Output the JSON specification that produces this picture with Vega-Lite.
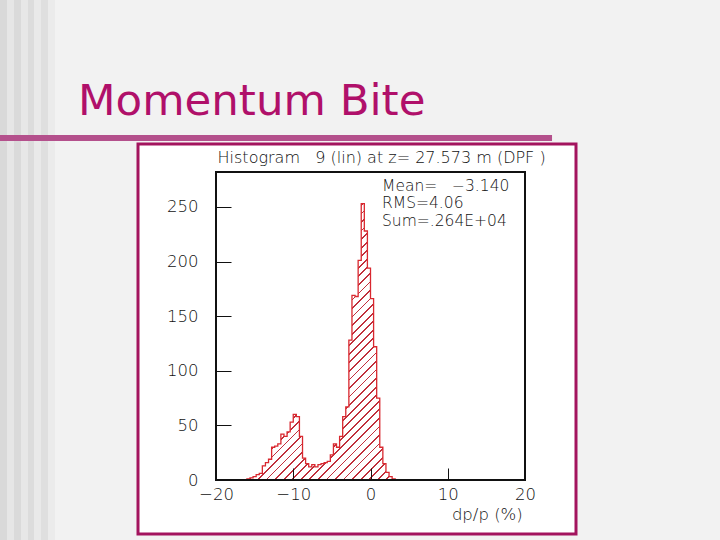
{
  "$schema": "https://vega.github.io/schema/vega-lite/v6.json",
  "width": 309,
  "height": 308,
  "autosize": {"type": "none"},
  "padding": {"left": 216, "top": 172, "right": 195, "bottom": 60},
  "background": "#f2f2f2",
  "title": {"text": "Momentum Bite", "anchor": "start", "frame": "group", "dx": -138, "offset": -158.5, "baseline": "alphabetic", "font": "DejaVu Sans", "fontSize": 43.5, "fontWeight": "normal", "color": "#b0106a"},
  "config": {"view": {"stroke": null, "fill": null}, "axis": {"labelOverlap": false, "labelBound": false}},
  "datasets": {
    "hist": [
      {"dpp": -16.4, "count": 0}, {"dpp": -16.0, "count": 1}, {"dpp": -15.6, "count": 2}, {"dpp": -15.2, "count": 3},
      {"dpp": -14.8, "count": 5}, {"dpp": -14.4, "count": 6}, {"dpp": -14.0, "count": 13}, {"dpp": -13.6, "count": 16},
      {"dpp": -13.2, "count": 19}, {"dpp": -12.8, "count": 30}, {"dpp": -12.4, "count": 31}, {"dpp": -12.0, "count": 33},
      {"dpp": -11.6, "count": 42}, {"dpp": -11.2, "count": 40}, {"dpp": -10.8, "count": 44}, {"dpp": -10.4, "count": 53},
      {"dpp": -10.0, "count": 60}, {"dpp": -9.6, "count": 58}, {"dpp": -9.2, "count": 40}, {"dpp": -8.8, "count": 20},
      {"dpp": -8.4, "count": 15}, {"dpp": -8.0, "count": 12}, {"dpp": -7.6, "count": 14}, {"dpp": -7.2, "count": 12},
      {"dpp": -6.8, "count": 14}, {"dpp": -6.4, "count": 15}, {"dpp": -6.0, "count": 16}, {"dpp": -5.6, "count": 17},
      {"dpp": -5.2, "count": 23}, {"dpp": -4.8, "count": 33}, {"dpp": -4.4, "count": 30}, {"dpp": -4.0, "count": 40},
      {"dpp": -3.6, "count": 58}, {"dpp": -3.2, "count": 67}, {"dpp": -2.8, "count": 128}, {"dpp": -2.4, "count": 169},
      {"dpp": -2.0, "count": 168}, {"dpp": -1.6, "count": 201}, {"dpp": -1.2, "count": 253}, {"dpp": -0.8, "count": 228},
      {"dpp": -0.4, "count": 194}, {"dpp": 0.0, "count": 166}, {"dpp": 0.4, "count": 122}, {"dpp": 0.8, "count": 75},
      {"dpp": 1.2, "count": 30}, {"dpp": 1.6, "count": 15}, {"dpp": 2.0, "count": 7}, {"dpp": 2.4, "count": 3},
      {"dpp": 2.8, "count": 1}, {"dpp": 3.2, "count": 0}
    ],
    "one": [{"id": 1}],
    "histTitle": [{"label": "Histogram\u00a0\u00a0 9 (lin) at z= 27.573 m (DPF )"}],
    "stats": [{"label": ["Mean=\u00a0\u00a0\u00a0\u22123.140", "RMS=4.06", "Sum=.264E+04"]}],
    "xTitle": [{"label": "dp/p (%)"}]
  },
  "layer": [
    {
      "data": {"name": "one"},
      "mark": {"type": "rect", "fill": {"gradient": "linear", "x1": 0, "y1": 0, "x2": 1, "y2": 0, "stops": [
        {"offset": 0, "color": "#d9d9d9"}, {"offset": 0.125, "color": "#d9d9d9"}, {"offset": 0.125, "color": "#e6e6e6"}, {"offset": 0.25, "color": "#e6e6e6"},
        {"offset": 0.25, "color": "#dadada"}, {"offset": 0.375, "color": "#dadada"}, {"offset": 0.375, "color": "#e7e7e7"}, {"offset": 0.5, "color": "#e7e7e7"},
        {"offset": 0.5, "color": "#dcdcdc"}, {"offset": 0.625, "color": "#dcdcdc"}, {"offset": 0.625, "color": "#e9e9e9"}, {"offset": 0.75, "color": "#e9e9e9"},
        {"offset": 0.75, "color": "#dfdfdf"}, {"offset": 0.875, "color": "#dfdfdf"}, {"offset": 0.875, "color": "#ebebeb"}, {"offset": 1, "color": "#ebebeb"}
      ]}},
      "encoding": {
        "x": {"datum": -47.96, "type": "quantitative"}, "x2": {"datum": -40.84},
        "y": {"datum": 439.5, "type": "quantitative"}, "y2": {"datum": -54.94}
      }
    },
    {
      "data": {"name": "one"},
      "mark": {"type": "rect", "fill": "white", "stroke": "#a3145e", "strokeWidth": 3},
      "encoding": {
        "x": {"datum": -30.097, "type": "quantitative"}, "x2": {"datum": 26.602},
        "y": {"datum": -49.44, "type": "quantitative"}, "y2": {"datum": 307.64}
      }
    },
    {
      "data": {"name": "one"},
      "mark": {"type": "rect", "color": "#b4508c"},
      "encoding": {
        "x": {"datum": -47.96, "type": "quantitative"}, "x2": {"datum": 23.5},
        "y": {"datum": 315.88, "type": "quantitative"}, "y2": {"datum": 310.38}
      }
    },
    {
      "data": {"name": "hist"},
      "mark": {"type": "area", "interpolate": "step-after",
        "fill": {"gradient": "linear", "x1": 0, "y1": 0, "x2": 0.6524, "y2": 1.1906, "stops": [
          {"offset":0,"color":"#fff"},{"offset":0.016,"color":"#fff"},{"offset":0.016,"color":"#c0303c"},{"offset":0.02,"color":"#c0303c"},
          {"offset":0.02,"color":"#fff"},{"offset":0.036,"color":"#fff"},{"offset":0.036,"color":"#c0303c"},{"offset":0.04,"color":"#c0303c"},
          {"offset":0.04,"color":"#fff"},{"offset":0.056,"color":"#fff"},{"offset":0.056,"color":"#c0303c"},{"offset":0.06,"color":"#c0303c"},
          {"offset":0.06,"color":"#fff"},{"offset":0.076,"color":"#fff"},{"offset":0.076,"color":"#c0303c"},{"offset":0.08,"color":"#c0303c"},
          {"offset":0.08,"color":"#fff"},{"offset":0.096,"color":"#fff"},{"offset":0.096,"color":"#c0303c"},{"offset":0.1,"color":"#c0303c"},
          {"offset":0.1,"color":"#fff"},{"offset":0.116,"color":"#fff"},{"offset":0.116,"color":"#c0303c"},{"offset":0.12,"color":"#c0303c"},
          {"offset":0.12,"color":"#fff"},{"offset":0.136,"color":"#fff"},{"offset":0.136,"color":"#c0303c"},{"offset":0.14,"color":"#c0303c"},
          {"offset":0.14,"color":"#fff"},{"offset":0.156,"color":"#fff"},{"offset":0.156,"color":"#c0303c"},{"offset":0.16,"color":"#c0303c"},
          {"offset":0.16,"color":"#fff"},{"offset":0.176,"color":"#fff"},{"offset":0.176,"color":"#c0303c"},{"offset":0.18,"color":"#c0303c"},
          {"offset":0.18,"color":"#fff"},{"offset":0.196,"color":"#fff"},{"offset":0.196,"color":"#c0303c"},{"offset":0.2,"color":"#c0303c"},
          {"offset":0.2,"color":"#fff"},{"offset":0.216,"color":"#fff"},{"offset":0.216,"color":"#c0303c"},{"offset":0.22,"color":"#c0303c"},
          {"offset":0.22,"color":"#fff"},{"offset":0.236,"color":"#fff"},{"offset":0.236,"color":"#c0303c"},{"offset":0.24,"color":"#c0303c"},
          {"offset":0.24,"color":"#fff"},{"offset":0.256,"color":"#fff"},{"offset":0.256,"color":"#c0303c"},{"offset":0.26,"color":"#c0303c"},
          {"offset":0.26,"color":"#fff"},{"offset":0.276,"color":"#fff"},{"offset":0.276,"color":"#c0303c"},{"offset":0.28,"color":"#c0303c"},
          {"offset":0.28,"color":"#fff"},{"offset":0.296,"color":"#fff"},{"offset":0.296,"color":"#c0303c"},{"offset":0.3,"color":"#c0303c"},
          {"offset":0.3,"color":"#fff"},{"offset":0.316,"color":"#fff"},{"offset":0.316,"color":"#c0303c"},{"offset":0.32,"color":"#c0303c"},
          {"offset":0.32,"color":"#fff"},{"offset":0.336,"color":"#fff"},{"offset":0.336,"color":"#c0303c"},{"offset":0.34,"color":"#c0303c"},
          {"offset":0.34,"color":"#fff"},{"offset":0.356,"color":"#fff"},{"offset":0.356,"color":"#c0303c"},{"offset":0.36,"color":"#c0303c"},
          {"offset":0.36,"color":"#fff"},{"offset":0.376,"color":"#fff"},{"offset":0.376,"color":"#c0303c"},{"offset":0.38,"color":"#c0303c"},
          {"offset":0.38,"color":"#fff"},{"offset":0.396,"color":"#fff"},{"offset":0.396,"color":"#c0303c"},{"offset":0.4,"color":"#c0303c"},
          {"offset":0.4,"color":"#fff"},{"offset":0.416,"color":"#fff"},{"offset":0.416,"color":"#c0303c"},{"offset":0.42,"color":"#c0303c"},
          {"offset":0.42,"color":"#fff"},{"offset":0.436,"color":"#fff"},{"offset":0.436,"color":"#c0303c"},{"offset":0.44,"color":"#c0303c"},
          {"offset":0.44,"color":"#fff"},{"offset":0.456,"color":"#fff"},{"offset":0.456,"color":"#c0303c"},{"offset":0.46,"color":"#c0303c"},
          {"offset":0.46,"color":"#fff"},{"offset":0.476,"color":"#fff"},{"offset":0.476,"color":"#c0303c"},{"offset":0.48,"color":"#c0303c"},
          {"offset":0.48,"color":"#fff"},{"offset":0.496,"color":"#fff"},{"offset":0.496,"color":"#c0303c"},{"offset":0.5,"color":"#c0303c"},
          {"offset":0.5,"color":"#fff"},{"offset":0.516,"color":"#fff"},{"offset":0.516,"color":"#c0303c"},{"offset":0.52,"color":"#c0303c"},
          {"offset":0.52,"color":"#fff"},{"offset":0.536,"color":"#fff"},{"offset":0.536,"color":"#c0303c"},{"offset":0.54,"color":"#c0303c"},
          {"offset":0.54,"color":"#fff"},{"offset":0.556,"color":"#fff"},{"offset":0.556,"color":"#c0303c"},{"offset":0.56,"color":"#c0303c"},
          {"offset":0.56,"color":"#fff"},{"offset":0.576,"color":"#fff"},{"offset":0.576,"color":"#c0303c"},{"offset":0.58,"color":"#c0303c"},
          {"offset":0.58,"color":"#fff"},{"offset":0.596,"color":"#fff"},{"offset":0.596,"color":"#c0303c"},{"offset":0.6,"color":"#c0303c"},
          {"offset":0.6,"color":"#fff"},{"offset":0.616,"color":"#fff"},{"offset":0.616,"color":"#c0303c"},{"offset":0.62,"color":"#c0303c"},
          {"offset":0.62,"color":"#fff"},{"offset":0.636,"color":"#fff"},{"offset":0.636,"color":"#c0303c"},{"offset":0.64,"color":"#c0303c"},
          {"offset":0.64,"color":"#fff"},{"offset":0.656,"color":"#fff"},{"offset":0.656,"color":"#c0303c"},{"offset":0.66,"color":"#c0303c"},
          {"offset":0.66,"color":"#fff"},{"offset":0.676,"color":"#fff"},{"offset":0.676,"color":"#c0303c"},{"offset":0.68,"color":"#c0303c"},
          {"offset":0.68,"color":"#fff"},{"offset":0.696,"color":"#fff"},{"offset":0.696,"color":"#c0303c"},{"offset":0.7,"color":"#c0303c"},
          {"offset":0.7,"color":"#fff"},{"offset":0.716,"color":"#fff"},{"offset":0.716,"color":"#c0303c"},{"offset":0.72,"color":"#c0303c"},
          {"offset":0.72,"color":"#fff"},{"offset":0.736,"color":"#fff"},{"offset":0.736,"color":"#c0303c"},{"offset":0.74,"color":"#c0303c"},
          {"offset":0.74,"color":"#fff"},{"offset":0.756,"color":"#fff"},{"offset":0.756,"color":"#c0303c"},{"offset":0.76,"color":"#c0303c"},
          {"offset":0.76,"color":"#fff"},{"offset":0.776,"color":"#fff"},{"offset":0.776,"color":"#c0303c"},{"offset":0.78,"color":"#c0303c"},
          {"offset":0.78,"color":"#fff"},{"offset":0.796,"color":"#fff"},{"offset":0.796,"color":"#c0303c"},{"offset":0.8,"color":"#c0303c"},
          {"offset":0.8,"color":"#fff"},{"offset":0.816,"color":"#fff"},{"offset":0.816,"color":"#c0303c"},{"offset":0.82,"color":"#c0303c"},
          {"offset":0.82,"color":"#fff"},{"offset":0.836,"color":"#fff"},{"offset":0.836,"color":"#c0303c"},{"offset":0.84,"color":"#c0303c"},
          {"offset":0.84,"color":"#fff"},{"offset":0.856,"color":"#fff"},{"offset":0.856,"color":"#c0303c"},{"offset":0.86,"color":"#c0303c"},
          {"offset":0.86,"color":"#fff"},{"offset":0.876,"color":"#fff"},{"offset":0.876,"color":"#c0303c"},{"offset":0.88,"color":"#c0303c"},
          {"offset":0.88,"color":"#fff"},{"offset":0.896,"color":"#fff"},{"offset":0.896,"color":"#c0303c"},{"offset":0.9,"color":"#c0303c"},
          {"offset":0.9,"color":"#fff"},{"offset":0.916,"color":"#fff"},{"offset":0.916,"color":"#c0303c"},{"offset":0.92,"color":"#c0303c"},
          {"offset":0.92,"color":"#fff"},{"offset":0.936,"color":"#fff"},{"offset":0.936,"color":"#c0303c"},{"offset":0.94,"color":"#c0303c"},
          {"offset":0.94,"color":"#fff"},{"offset":0.956,"color":"#fff"},{"offset":0.956,"color":"#c0303c"},{"offset":0.96,"color":"#c0303c"},
          {"offset":0.96,"color":"#fff"},{"offset":0.976,"color":"#fff"},{"offset":0.976,"color":"#c0303c"},{"offset":0.98,"color":"#c0303c"},
          {"offset":0.98,"color":"#fff"},{"offset":0.996,"color":"#fff"},{"offset":0.996,"color":"#c0303c"},{"offset":1,"color":"#c0303c"}
        ]}},
      "encoding": {
        "x": {"field": "dpp", "type": "quantitative",
          "scale": {"domain": [-20, 20], "nice": false, "zero": false},
          "axis": {"orient": "bottom", "zindex": 1, "domain": false, "grid": false, "title": null,
            "values": [-20, -10, 0, 10, 20],
            "tickSize": -12, "tickColor": "#111", "tickWidth": 1,
            "labelFlush": false, "labelOverlap": false, "labelBound": false, "labelPadding": 26, "labelBaseline": "middle",
            "labelFont": "DejaVu Sans", "labelFontWeight": 200, "labelFontSize": 16.5, "labelColor": "#111"}},
        "y": {"field": "count", "type": "quantitative",
          "scale": {"domain": [0, 282], "nice": false, "zero": false},
          "axis": {"orient": "left", "zindex": 1, "domain": false, "grid": false, "title": null,
            "values": [0,25,50,75,100,125,150,175,200,225,250,275],
            "tickSize": {"condition": {"test": "datum.value % 50 === 0", "value": -15}, "value": -7},
            "tickColor": "#111", "tickWidth": 1,
            "labelExpr": "datum.value % 50 === 0 ? datum.label : ''",
            "labelOverlap": false, "labelSeparation": -40, "labelPadding": 33, "labelBaseline": "middle",
            "labelFont": "DejaVu Sans", "labelFontWeight": 200, "labelFontSize": 16.5, "labelColor": "#111"}},
        "y2": {"datum": 0}
      }
    },
    {
      "data": {"name": "hist"},
      "mark": {"type": "line", "interpolate": "step-after", "color": "#d9282f", "strokeWidth": 1.3},
      "encoding": {
        "x": {"field": "dpp", "type": "quantitative"},
        "y": {"field": "count", "type": "quantitative"}
      }
    },
    {
      "data": {"name": "one"},
      "mark": {"type": "rect", "filled": false, "color": "#111111", "strokeWidth": 2},
      "encoding": {
        "x": {"datum": -20, "type": "quantitative"}, "x2": {"datum": 20},
        "y": {"datum": 0, "type": "quantitative"}, "y2": {"datum": 282}
      }
    },
    {
      "data": {"name": "histTitle"},
      "mark": {"type": "text", "align": "left", "baseline": "middle", "font": "DejaVu Sans", "fontWeight": 200, "fontSize": 16, "color": "#111"},
      "encoding": {
        "x": {"datum": -19.8, "type": "quantitative"}, "y": {"datum": 294.9, "type": "quantitative"},
        "text": {"field": "label", "type": "nominal"}
      }
    },
    {
      "data": {"name": "stats"},
      "mark": {"type": "text", "align": "left", "baseline": "alphabetic", "lineHeight": 17.5, "font": "DejaVu Sans", "fontWeight": 200, "fontSize": 15.5, "color": "#111"},
      "encoding": {
        "x": {"datum": 1.49, "type": "quantitative"}, "y": {"datum": 264.9, "type": "quantitative"},
        "text": {"field": "label", "type": "nominal"}
      }
    },
    {
      "data": {"name": "xTitle"},
      "mark": {"type": "text", "align": "right", "baseline": "alphabetic", "font": "DejaVu Sans", "fontWeight": 200, "fontSize": 16.5, "color": "#111"},
      "encoding": {
        "x": {"datum": 19.7, "type": "quantitative"}, "y": {"datum": -36.6, "type": "quantitative"},
        "text": {"field": "label", "type": "nominal"}
      }
    }
  ]
}
